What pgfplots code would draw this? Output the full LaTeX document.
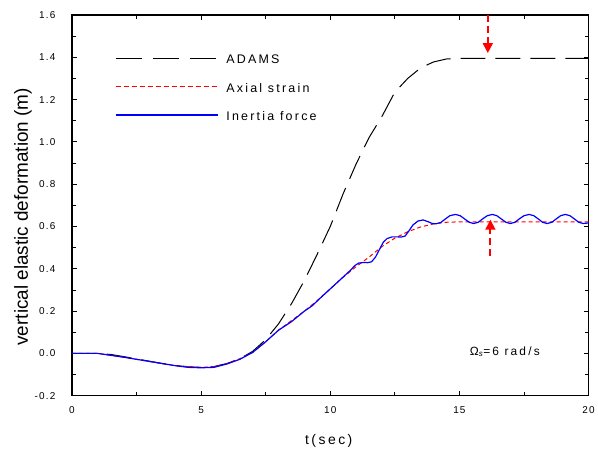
\documentclass[border=0pt]{standalone}
\usepackage{fontspec}
\setmainfont{Liberation Sans}
\newfontfamily\lsfont[LetterSpace=18]{Liberation Sans}
\newfontfamily\tkfont[LetterSpace=12]{Liberation Sans}
\usepackage{pgfplots}
\pgfplotsset{compat=1.18}
\usetikzlibrary{arrows.meta}
\definecolor{invblue}{RGB}{0,0,255}
\begin{document}
\begin{tikzpicture}
\begin{axis}[name=ax, scale only axis, width=517bp, height=381bp,
  xmin=0, xmax=20, ymin=-0.2, ymax=1.6,
  xtick={0,5,10,15,20}, ytick={-0.2,0,0.2,0.4,0.6,0.8,1.0,1.2,1.4,1.6},
  minor x tick num=1, minor y tick num=1,
  tick align=inside, xtick pos=both, ytick pos=both,
  xticklabel pos=left, yticklabel pos=left,
  major tick length=5bp, minor tick length=4bp,
  every tick/.style={black, line width=0.8bp},
  axis line style={line width=1.3bp},
  /pgf/number format/assume math mode=true,
  tick label style={font=\tkfont\fontsize{10}{12}\selectfont},
  xticklabel style={yshift=-7bp},
  yticklabel style={xshift=-13bp, /pgf/number format/fixed, /pgf/number format/fixed zerofill, /pgf/number format/precision=1},
  xlabel={t(sec)},
  xlabel style={at={(axis description cs:0.497,-0.119)}, anchor=center, font=\lsfont\fontsize{14}{16}\selectfont},
  ylabel={vertical elastic deformation (m)},
  ylabel style={at={(axis description cs:-0.095,0.47)}, anchor=center, font=\fontsize{19}{22}\selectfont},
  legend style={at={(axis cs:1.66,1.413)}, anchor=north west, draw=white, fill=none, inner sep=0pt,
    row sep=16.5bp, column sep=8bp, font=\lsfont\fontsize{12.5}{15}\selectfont,
    nodes={text height=9bp, text depth=3bp, inner sep=0pt}},
  legend cell align=left,
  clip=false
]
\addplot[black, line width=1bp, dash pattern=on 25bp off 10bp,
  legend image code/.code={\draw[black, line width=1bp, dash pattern=on 26bp off 11bp] (0bp,2.5bp) -- (102bp,2.5bp);}] coordinates {
(0,0) (1,0) (1.5,-0.005) (2,-0.015) (2.5,-0.026) (3,-0.037) (3.5,-0.048) (4,-0.057)
(4.5,-0.064) (5,-0.066) (5.5,-0.062) (6,-0.048) (6.5,-0.025) (7,0.01) (7.5,0.065)
(8,0.14) (8.5,0.235) (9,0.345) (9.5,0.47) (10,0.6) (10.5,0.755) (11,0.895) (11.5,1.02)
(12,1.12) (12.5,1.235) (13,1.3) (13.5,1.35) (14,1.378) (14.5,1.392) (15,1.395) (20,1.395)
};
\addlegendentry{ADAMS}

\addplot[red, line width=1bp, dash pattern=on 4bp off 3bp,
  legend image code/.code={\draw[red, line width=1bp, dash pattern=on 5bp off 3bp] (0bp,2.5bp) -- (102bp,2.5bp);}] coordinates {
(0,0) (1,0) (2,-0.018) (3,-0.038) (4,-0.058) (5,-0.066) (5.5,-0.063) (6,-0.048)
(6.5,-0.025) (7,0.005) (7.5,0.055) (8,0.11) (8.5,0.155) (9,0.2) (9.5,0.25) (10,0.305)
(10.5,0.36) (11,0.41) (11.5,0.455) (12,0.505) (12.5,0.545) (13,0.575) (13.5,0.598)
(14,0.612) (14.5,0.62) (15,0.622) (20,0.622)
};
\addlegendentry{Axial strain}

\addplot[invblue, line width=1.2bp,
  legend image code/.code={\draw[invblue, line width=1.4bp] (0bp,2.5bp) -- (102bp,2.5bp);}] coordinates {
(0,0) (1,0) (2,-0.018) (3,-0.038) (4,-0.058) (4.5,-0.066) (5,-0.068) (5.5,-0.066)
(6,-0.05) (6.5,-0.028) (7,0.005) (7.5,0.055) (8,0.11) (8.5,0.15) (9,0.2) (9.3,0.225)
(9.6,0.26) (10,0.305) (10.4,0.35) (10.8,0.395) (10.95,0.415) (11.1,0.427) (11.3,0.43)
(11.45,0.429) (11.6,0.433) (11.75,0.455) (11.9,0.49) (12.05,0.525) (12.2,0.543)
(12.4,0.551) (12.6,0.551) (12.75,0.55) (12.9,0.555) (13.05,0.58) (13.2,0.607)
(13.4,0.626) (13.6,0.631) (13.8,0.622) (13.95,0.614) (14.1,0.613)
(14.28,0.619) (14.45,0.635) (14.63,0.651) (14.85,0.657) (15.03,0.651) (15.2,0.636)
(15.38,0.620) (15.55,0.614) (15.73,0.620) (15.9,0.636) (16.08,0.651) (16.28,0.657)
(16.45,0.651) (16.62,0.636) (16.8,0.620) (16.97,0.614) (17.15,0.620) (17.32,0.636)
(17.5,0.651) (17.7,0.657) (17.88,0.651) (18.05,0.636) (18.22,0.620) (18.4,0.614)
(18.58,0.620) (18.75,0.636) (18.92,0.651) (19.1,0.657) (19.28,0.651) (19.45,0.636)
(19.62,0.620) (19.8,0.614) (20,0.617)
};
\addlegendentry{Inertia force}

\draw[red, line width=1.8bp, dash pattern=on 7bp off 4bp, -{Triangle[width=10bp,length=10bp]}]
  (axis cs:16.1,1.6) -- (axis cs:16.1,1.42);
\draw[red, line width=1.8bp, dash pattern=on 7bp off 4bp, -{Triangle[width=10bp,length=10bp]}]
  (axis cs:16.2,0.46) -- (axis cs:16.2,0.632);
\node[anchor=west, font=\lsfont\fontsize{12}{14}\selectfont, inner sep=0pt] at (axis cs:15.4,0.008)
  {Ω\textsubscript{\itshape s}=6 rad/s};
\end{axis}
\path ([shift={(-72bp,-54bp)}]ax.south west) rectangle ([shift={(9bp,15bp)}]ax.north east);
\end{tikzpicture}
\end{document}
